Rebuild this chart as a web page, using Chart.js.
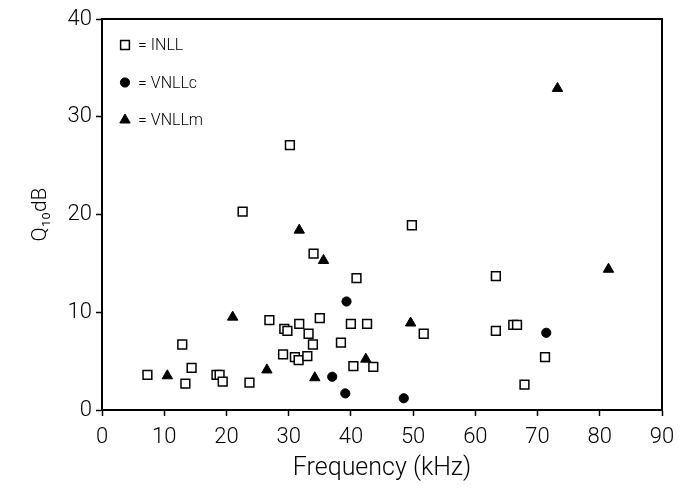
<!DOCTYPE html>
<html>
<head>
<meta charset="utf-8">
<script src="https://cdn.jsdelivr.net/npm/chart.js@4.4.1/dist/chart.umd.min.js"></script>
<style>
  html, body { margin: 0; padding: 0; background: #fff; }
  #wrap { width: 688px; height: 488px; }
</style>
</head>
<body>
<div id="wrap"><canvas id="scatter" width="688" height="488"></canvas></div>
<script>
// values
const inllX = [7.3, 12.9, 13.4, 14.4, 18.4, 18.9, 19.4, 23.7, 22.6, 30.2, 26.9, 29.3, 29.8, 29.1, 31.0, 31.6, 33.0, 31.7,
               33.2, 33.9, 34.0, 35.0, 38.4, 40.0, 42.6, 40.9, 40.4, 43.6, 49.8, 51.7, 63.3, 63.3, 66.1, 66.7, 71.2, 67.9];
const inllY = [3.6, 6.7, 2.7, 4.3, 3.6, 3.6, 2.9, 2.8, 20.3, 27.1, 9.2, 8.3, 8.1, 5.7, 5.4, 5.1, 5.5, 8.8,
               7.8, 6.7, 16.0, 9.4, 6.9, 8.8, 8.8, 13.5, 4.5, 4.4, 18.9, 7.8, 13.7, 8.1, 8.7, 8.7, 5.4, 2.6];
const vnllcX = [39.3, 37.0, 39.1, 48.5, 71.4];
const vnllcY = [11.1, 3.4, 1.7, 1.2, 7.9];
const vnllmX = [10.5, 21.0, 26.5, 31.7, 35.6, 34.2, 42.4, 49.6, 73.2, 81.4];
const vnllmY = [3.5, 9.5, 4.1, 18.4, 15.3, 3.3, 5.2, 8.9, 32.9, 14.4];
const xTicks = [0, 10, 20, 30, 40, 50, 60, 70, 80, 90];
const yTicks = [0, 10, 20, 30, 40];

const toPoints = (xs, ys) => xs.map((x, i) => ({ x: x, y: ys[i] }));
const FONT = "'Roboto', 'Liberation Sans', sans-serif";

// frame round the plot
const frame = {
    id: 'frame',
    afterDraw(chart) {
        const { ctx, chartArea: a } = chart;
        ctx.save();
        ctx.strokeStyle = '#000';
        ctx.lineWidth = 2;
        ctx.strokeRect(a.left, a.top, a.right - a.left, a.bottom - a.top);
        ctx.restore();
    }
};

// legend inside the plot, top left
const insideLegend = {
    id: 'insideLegend',
    afterDatasetsDraw(chart) {
        const { ctx, chartArea: a } = chart;
        const items = [
            { text: '= INLL', style: 'rect', r: 6.2, fill: '#fff', line: 1.5 },
            { text: '= VNLLc', style: 'circle', r: 4.6, fill: '#000', line: 1 },
            { text: '= VNLLm', style: 'triangle', r: 6, fill: '#000', line: 1 }
        ];
        ctx.save();
        items.forEach((it, i) => {
            const x = a.left + 23;
            const y = a.top + 26 + i * 37.5;
            ctx.fillStyle = it.fill;
            ctx.strokeStyle = '#000';
            ctx.lineWidth = it.line;
            Chart.helpers.drawPoint(ctx, { pointStyle: it.style, radius: it.r, rotation: 0, borderWidth: it.line }, x, y);
            ctx.fillStyle = '#000';
            ctx.font = "300 16px " + FONT;
            ctx.textBaseline = 'middle';
            ctx.fillText(it.text, x + 13, y + 1);
        });
        ctx.restore();
    }
};

new Chart(document.getElementById('scatter').getContext('2d'), {
    type: 'scatter',
    data: {
        datasets: [
            {
                label: 'INLL',
                data: toPoints(inllX, inllY),
                pointStyle: 'rect',
                pointRadius: 6.2,
                backgroundColor: '#fff',
                borderColor: '#000',
                borderWidth: 1.5
            },
            {
                label: 'VNLLc',
                data: toPoints(vnllcX, vnllcY),
                pointStyle: 'circle',
                pointRadius: 4.6,
                backgroundColor: '#000',
                borderColor: '#000',
                borderWidth: 1
            },
            {
                label: 'VNLLm',
                data: toPoints(vnllmX, vnllmY),
                pointStyle: 'triangle',
                pointRadius: 6,
                backgroundColor: '#000',
                borderColor: '#000',
                borderWidth: 1
            }
        ]
    },
    options: {
        responsive: false,
        animation: false,
        layout: { padding: { top: 19, right: 26, left: 0, bottom: 0 } },
        plugins: {
            legend: { display: false },
            tooltip: { enabled: false }
        },
        scales: {
            x: {
                type: 'linear',
                min: 0,
                max: 90,
                afterBuildTicks(scale) { scale.ticks = xTicks.map(v => ({ value: v })); },
                afterFit(scale) { scale.height = 78; },
                border: { color: '#000', width: 2 },
                grid: { drawOnChartArea: false, tickLength: 6, color: '#000', tickWidth: 1.5 },
                ticks: { color: '#000', padding: 8, font: { family: FONT, size: 22, weight: 300 } },
                title: {
                    display: true,
                    text: 'Frequency (kHz)',
                    color: '#000',
                    padding: { top: 0, bottom: 4 },
                    font: { family: FONT, size: 25, weight: 300 }
                }
            },
            y: {
                type: 'linear',
                min: 0,
                max: 40,
                afterBuildTicks(scale) { scale.ticks = yTicks.map(v => ({ value: v })); },
                afterFit(scale) { scale.width = 102; },
                border: { color: '#000', width: 2 },
                grid: { drawOnChartArea: false, tickLength: 6, color: '#000', tickWidth: 1.5 },
                ticks: { color: '#000', padding: 4, font: { family: FONT, size: 22, weight: 300 } },
                title: {
                    display: true,
                    text: 'Q₁₀dB',
                    color: '#000',
                    padding: { top: 28, bottom: 0 },
                    font: { family: FONT, size: 21, weight: 300 }
                }
            }
        }
    },
    plugins: [frame, insideLegend]
});
</script>
</body>
</html>
